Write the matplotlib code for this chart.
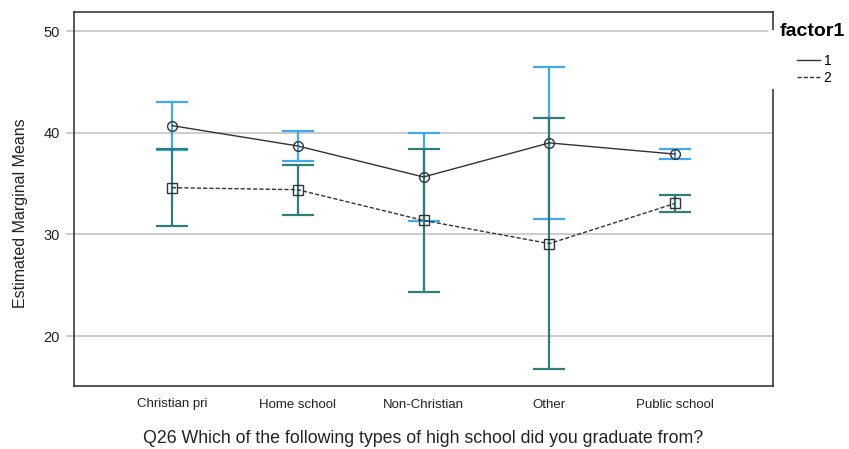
import numpy as np
import matplotlib.pyplot as plt
from matplotlib.lines import Line2D
from matplotlib.patches import Rectangle

plt.rcParams['font.family'] = ['Liberation Sans', 'DejaVu Sans']

schools = ['Christian pri', 'Home school', 'Non-Christian', 'Other', 'Public school']

# estimated marginal means per factor1 level
means_1 = [40.7, 38.7, 35.65, 39.0, 37.9]
means_2 = [34.6, 34.4, 31.38, 29.1, 33.05]

# 95% CI half widths
ci_1 = [2.35, 1.5, 4.3, 7.45, 0.52]
ci_2 = [3.8, 2.44, 7.05, 12.3, 0.82]

x = np.arange(len(schools))

fig = plt.figure(figsize=(8.49, 4.49), dpi=100)
ax = fig.add_axes([74/849, 1 - 386/449, 699/849, 374/449])

blue = '#41a8f2'
teal = '#2e7e7c'
ink = '#333333'

ax.errorbar(x, means_1, yerr=ci_1, fmt='none', ecolor=blue, elinewidth=1.6,
            capsize=11.5, capthick=1.6, zorder=3)
ax.errorbar(x, means_2, yerr=ci_2, fmt='none', ecolor=teal, elinewidth=1.6,
            capsize=11.5, capthick=1.6, zorder=4)

ax.plot(x, means_1, color=ink, lw=1.0, marker='o', ms=7, mfc='none',
        mec=ink, mew=1.0, zorder=5)
ax.plot(x, means_2, color=ink, lw=1.0, ls=(0, (3, 1.5)), marker='s', ms=7,
        mfc='none', mec=ink, mew=1.0, zorder=5)

ax.set_xlim(-0.778, 4.778)
ax.set_ylim(15.1, 51.87)
ax.set_yticks([20, 30, 40, 50])
ax.set_xticks(x)
ax.set_xticklabels(schools, fontsize=9.5, color='#222222')
ax.tick_params(axis='x', length=0, pad=9)
ax.tick_params(axis='y', length=6, color='#c4c4c4', width=1.2, labelsize=10.5,
               labelcolor='#222222', pad=4)
ax.yaxis.grid(True, color='#c4c4c4', lw=1.2, zorder=0)
ax.set_axisbelow(True)
for sp in ax.spines.values():
    sp.set_color('#3a3a3a')
    sp.set_linewidth(1.2)

ax.set_ylabel('Estimated Marginal Means', fontsize=11.5, color='#222222')
ax.yaxis.set_label_coords(-0.066, 0.463)
ax.set_xlabel('Q26 Which of the following types of high school did you graduate from?',
              fontsize=12.8, color='#222222')
ax.xaxis.set_label_coords(0.5, -0.118)

# legend block sits over the right edge of the frame
fig.patches.append(Rectangle((768/849, 1 - 89/449), 81/849, 59/449,
                             transform=fig.transFigure, facecolor='white',
                             edgecolor='none', zorder=10))
fig.text(780/849, 1 - 32/449, 'factor1', fontsize=14, fontweight='bold',
         va='center', ha='left', zorder=11)
handles = [Line2D([], [], color=ink, lw=1.0),
           Line2D([], [], color=ink, lw=1.0, ls=(0, (3, 1.5)))]
leg = fig.legend(handles, ['1', '2'], loc='upper left',
                 bbox_to_anchor=(791/849, 1 - 48/449), frameon=False,
                 fontsize=10, handlelength=1.7, handletextpad=0.25,
                 labelspacing=0.25, borderaxespad=0)
leg.set_zorder(11)

fig.savefig('out.png', dpi=100)
